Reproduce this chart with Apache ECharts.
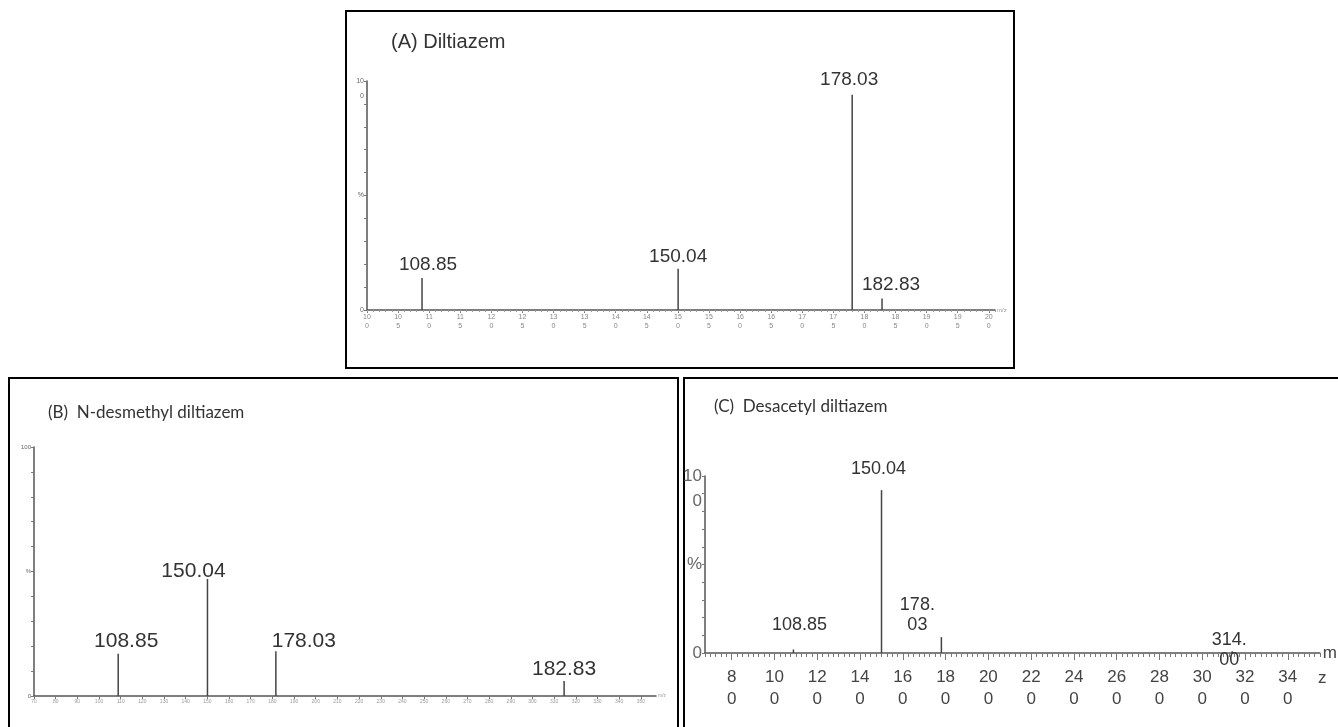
<!DOCTYPE html>
<html>
<head>
<meta charset="utf-8">
<script src="https://cdn.jsdelivr.net/npm/echarts@6/dist/echarts.min.js"></script>
<style>
  html, body { margin: 0; background: #fff; }
  #chart { width: 1338px; height: 727px; }
</style>
</head>
<body>
<div id="chart"></div>
<script>
// (A) Diltiazem
const mzA = [108.85, 150.04, 178.03, 182.83];
const intensityA = [14, 18, 94, 5];
const labelsA = ['108.85', '150.04', '178.03', '182.83'];
const ticksA = [100, 105, 110, 115, 120, 125, 130, 135, 140, 145, 150, 155, 160, 165, 170, 175, 180, 185, 190, 195, 200];

// (B) N-desmethyl diltiazem  (peak positions as drawn on the axis, labels as printed)
const mzB = [108.85, 150.04, 181.6, 314.6];
const intensityB = [17, 47, 18, 6];
const labelsB = ['108.85', '150.04', '178.03', '182.83'];
const ticksB = [70, 80, 90, 100, 110, 120, 130, 140, 150, 160, 170, 180, 190, 200, 210, 220, 230, 240, 250, 260, 270, 280, 290, 300, 310, 320, 330, 340, 350];

// (C) Desacetyl diltiazem
const mzC = [108.85, 150.04, 178.03, 314.00];
const intensityC = [2, 92, 9, 1];
const labelsC = ['108.85', '150.04', '178.\n03', '314.\n00'];
const ticksC = [80, 100, 120, 140, 160, 180, 200, 220, 240, 260, 280, 300, 320, 340];

// label offsets from the top of each stick (px)
const offA = [[6, -13], [0, -12], [-3, -15], [9, -14]];
const offB = [[8, -12], [-14, -8], [28, -10], [0, -12]];
const offC = [[6, -24], [-3, -21], [-24, -22], [-3, -1]];

const chart = echarts.init(document.getElementById('chart'));

const SANS = '"Liberation Sans", Arial, sans-serif';
const axisGrey = '#555';

function twoRow(v) {
  return Math.floor(v / 10) + '\n' + (v % 10);
}

function stickSeries(axisX, axisY, mz, inten, labels, offsets, fontSize) {
  return {
    type: 'custom',
    xAxisIndex: axisX,
    yAxisIndex: axisY,
    clip: false,
    data: mz.map((m, i) => [m, inten[i], i]),
    renderItem(params, api) {
      const base = api.coord([api.value(0), 0]);
      const top = api.coord([api.value(0), api.value(1)]);
      const i = api.value(2);
      const off = offsets[i];
      return {
        type: 'group',
        children: [
          {
            type: 'line',
            shape: { x1: base[0], y1: base[1], x2: top[0], y2: top[1] },
            style: { stroke: '#444', lineWidth: 1.5 }
          },
          {
            type: 'text',
            x: top[0] + off[0],
            y: top[1] + off[1],
            style: {
              text: labels[i], fill: '#333', fontSize: fontSize, fontFamily: SANS,
              align: 'center', verticalAlign: 'middle', lineHeight: fontSize + 2
            }
          }
        ]
      };
    }
  };
}

function yPercent(gridIndex, fontSize, top100) {
  return {
    gridIndex, type: 'value', min: 0, max: 100, interval: 10,
    axisLine: { show: true, lineStyle: { color: axisGrey, width: 1.5 } },
    axisTick: { show: true, length: 3, lineStyle: { color: '#777' } },
    splitLine: { show: false },
    axisLabel: {
      color: '#666', fontSize, fontFamily: SANS, margin: 3,
      formatter: v => v === 100 ? top100 : v === 50 ? '%' : v === 0 ? '0' : '',
      rich: {
        e: { fontSize, lineHeight: fontSize + 8, color: '#666' },
        n: { fontSize, lineHeight: fontSize + 8, color: '#666' }
      }
    }
  };
}

const option = {
  backgroundColor: '#fff',
  animation: false,
  title: [
    { text: '(A) Diltiazem', left: 391, top: 32, padding: 0,
      textStyle: { fontSize: 20, fontWeight: 'normal', fontFamily: SANS, color: '#333' } },
    { text: '(B)  N-desmethyl diltiazem', left: 48, top: 404, padding: 0,
      textStyle: { fontSize: 17, fontWeight: 'normal', fontFamily: 'Lato, "Open Sans", sans-serif', color: '#333' } },
    { text: '(C)  Desacetyl diltiazem', left: 714, top: 398, padding: 0,
      textStyle: { fontSize: 17, fontWeight: 'normal', fontFamily: 'Lato, "Open Sans", sans-serif', color: '#333' } }
  ],
  graphic: [
    { type: 'rect', shape: { x: 346, y: 11, width: 668, height: 357 },
      style: { fill: 'none', stroke: '#000', lineWidth: 2 } },
    { type: 'rect', shape: { x: 9, y: 378, width: 669, height: 360 },
      style: { fill: 'none', stroke: '#000', lineWidth: 2 } },
    { type: 'rect', shape: { x: 684, y: 378, width: 700, height: 360 },
      style: { fill: 'none', stroke: '#000', lineWidth: 2 } },
    { type: 'text', x: 1318, y: 670,
      style: { text: 'z', fontSize: 17, fontFamily: SANS, fill: '#444' } }
  ],
  grid: [
    { left: 367, top: 81, width: 628, height: 229 },
    { left: 34, top: 447, width: 622, height: 249 },
    { left: 705, top: 476, width: 615, height: 177 }
  ],
  xAxis: [
    {
      gridIndex: 0, type: 'value', min: 100, max: 201,
      name: 'm/z', nameGap: 2, nameTextStyle: { fontSize: 6, color: '#999' },
      axisLine: { lineStyle: { color: axisGrey, width: 1.5 } },
      axisTick: { length: 3, customValues: ticksA, lineStyle: { color: '#777' } },
      splitLine: { show: false },
      axisLabel: { customValues: ticksA, formatter: twoRow, fontSize: 7, lineHeight: 9,
        color: '#888', fontFamily: SANS, margin: 3 }
    },
    {
      gridIndex: 1, type: 'value', min: 70, max: 357,
      name: 'm/z', nameGap: 2, nameTextStyle: { fontSize: 5, color: '#999' },
      axisLine: { lineStyle: { color: axisGrey, width: 1.5 } },
      axisTick: { length: 3, customValues: ticksB, lineStyle: { color: '#777' } },
      splitLine: { show: false },
      axisLabel: { customValues: ticksB, fontSize: 5, color: '#999', fontFamily: SANS, margin: 3 }
    },
    {
      // minor ruler ticks
      gridIndex: 2, type: 'value', min: 67.5, max: 355, interval: 2.5, position: 'bottom',
      name: 'm', nameGap: 3, nameTextStyle: { fontSize: 17, color: '#444', fontFamily: SANS },
      axisLine: { lineStyle: { color: axisGrey, width: 1.5 } },
      axisTick: { length: 4, lineStyle: { color: '#777' } },
      splitLine: { show: false },
      axisLabel: { show: false }
    },
    {
      gridIndex: 2, type: 'value', min: 67.5, max: 355, position: 'bottom',
      axisLine: { show: false },
      axisTick: { length: 7, customValues: ticksC, lineStyle: { color: '#777' } },
      splitLine: { show: false },
      axisLabel: { customValues: ticksC, formatter: twoRow, fontSize: 17, lineHeight: 22,
        color: '#444', fontFamily: SANS, margin: 13 }
    },
    {
      // dotted look of the (A) baseline
      gridIndex: 0, type: 'value', min: 100, max: 201, interval: 1, position: 'bottom',
      axisLine: { show: false },
      axisTick: { length: 2, lineStyle: { color: '#999' } },
      splitLine: { show: false },
      axisLabel: { show: false }
    }
  ],
  yAxis: [
    yPercent(0, 7, '{e| }\n{n|10}\n{n|0}'),
    yPercent(1, 6, '100'),
    yPercent(2, 17, '{e| }\n{n|10}\n{n|0}')
  ],
  series: [
    stickSeries(0, 0, mzA, intensityA, labelsA, offA, 19),
    stickSeries(1, 1, mzB, intensityB, labelsB, offB, 21),
    stickSeries(2, 2, mzC, intensityC, labelsC, offC, 18)
  ]
};

chart.setOption(option);
window.addEventListener('resize', () => chart.resize());
</script>
</body>
</html>
